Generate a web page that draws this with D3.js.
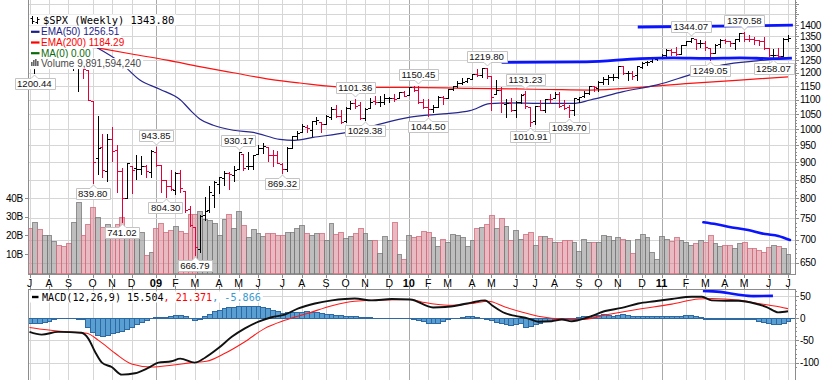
<!DOCTYPE html>
<html><head><meta charset="utf-8">
<script src="https://cdn.jsdelivr.net/npm/d3@7"></script>
<style>
html,body{margin:0;padding:0;background:#fff;}
svg{display:block;}
text{font-family:"Liberation Sans",Arial,sans-serif;}
</style></head><body>
<svg id="c" width="839" height="380"></svg>
<script>
// ---------------- DATA ----------------
const firstWeek = "2008-07-07";           // Monday of first weekly bar
const prevClose = 1262.90;                // close of week before first bar
const open = [1262.9,1239,1261,1258,1260,1296,1298,1292,1283,1249,
1250,1255,1209,1097,912,943,874,968,936,874,
801,888,882,880,888,872,930,890,849,833,
823,868,819,773,729,680,758,771,809,839,
854,868,862,880,922,887,887,923,940,943,
919,920,895,880,941,980,990,1009,998,1026,
1025,1018,1040,1067,1045,1026,1072,1088,1080,1036,
1070,1094,1092,1092,1106,1107,1105,1127,1116,1146,
1136,1092,1074,1066,1076,1110,1105,1139,1150,1160,
1167,1178,1194,1192,1217,1188,1122,1136,1084,1087,
1065,1092,1122,1075,1028,1078,1065,1103,1107,1122,
1080,1073,1063,1103,1114,1126,1149,1144,1165,1177,
1184,1185,1225,1200,1198,1190,1223,1242,1245,1254,
1258,1272,1293,1283,1276,1311,1329,1340,1321,1322,
1301,1281,1315,1333,1329,1320,1338,1365,1340,1338,
1333,1331,1300,1271,1272,1268,1340];
const high = [1277,1262,1291,1285,1297,1313,1300,1304,1303,1274,
1265,1255,1209,1097,1044,985,984,1007,951,882,
896,888,919,918,890,935,943.85,890,850,877,
870,876,819,780,729,758,803,832,845,858,
875,871,888,930.17,922,930,920,951,956,944,
935,931,898,943,980,996,1018,1013,1027,1039,
1025,1048,1074,1080,1063,1076,1097,1101.36,1092,1071,
1106,1113,1112,1120,1110,1119,1128,1130,1146,1149,
1150.45,1103,1104,1080,1112,1112,1139,1150,1170,1181,
1181,1194,1214,1217,1219.80,1189,1174,1148,1104,1106,
1094,1120,1131.23,1075,1078,1099,1103,1120,1128,1129,
1100,1081,1105,1111,1131,1149,1150,1167,1185,1190,
1196,1227,1227,1207,1206,1225,1241,1247,1258,1263,
1277,1296,1297,1302,1312,1330,1344.07,1340,1332,1330,
1301,1315,1337,1339,1329,1339,1364,1370.58,1354,1346,
1335,1345,1301,1295,1298,1341,1356];
const low = [1225,1200.44,1248,1234,1248,1283,1261,1263,1217,1212,
1133,1179,1098,839.80,865,857,845,904,818,741.02,
801,815,852,866,857,857,889,818,804.30,821,
812,816,765,733,666.79,672,747,767,779,814,
836,826,847,879,878,879,881,923,927,903,
888,896,869.32,875,940,969,990,990,979,1018,
991,1017,1035,1041,1020,1025,1066,1070,1033,1029.38,
1070,1086,1079,1086,1091,1097,1105,1114,1116,1132,
1090,1071,1044.50,1056,1076,1086,1105,1136,1147,1156,
1165,1175,1186,1183,1181,1065,1122,1056,1040,1060,
1042,1088,1071,1010.91,1018,1063,1056,1088,1107,1075,
1068,1039.70,1048,1091,1111,1122,1131,1131,1159,1159,
1171,1180,1194,1173,1176,1174,1218,1232,1244,1252,
1257,1265,1272,1272,1276,1311,1324,1294,1303,1291,
1249.05,1279,1302,1322,1309,1295,1331,1330,1330,1318,
1311,1297,1268,1258.07,1262,1265,1330];
const close = [1239.49,1260.68,1257.76,1260.31,1296.32,1298.20,1292.20,1282.83,1242.31,1251.70,
1255.08,1213.27,1099.23,899.22,940.55,876.77,968.75,930.99,873.29,800.03,
896.24,876.07,879.73,887.88,872.80,931.80,890.35,850.12,831.95,825.88,
868.60,826.84,770.05,735.09,683.38,756.55,768.54,815.94,842.50,856.56,
869.60,866.23,877.52,929.23,882.88,887.00,919.14,940.09,946.21,921.23,
918.90,896.42,879.13,940.38,979.26,987.48,1010.48,1004.09,1026.13,1028.93,
1016.40,1042.73,1068.30,1044.38,1025.21,1071.49,1087.68,1079.60,1036.19,1069.30,
1093.48,1091.38,1091.49,1105.98,1106.41,1102.47,1126.48,1115.10,1144.98,1136.03,
1091.76,1073.87,1066.19,1075.51,1109.17,1104.49,1138.70,1149.99,1159.90,1166.59,
1178.10,1194.37,1192.13,1217.28,1186.69,1110.88,1135.68,1087.69,1089.41,1064.88,
1091.60,1117.51,1076.76,1022.58,1077.96,1064.88,1102.66,1101.60,1121.64,1079.25,
1071.69,1064.59,1104.51,1109.55,1125.59,1148.67,1146.24,1165.15,1176.19,1183.08,
1183.26,1225.85,1199.21,1199.73,1189.40,1224.71,1240.40,1243.91,1256.77,1257.64,
1271.50,1293.24,1283.35,1276.34,1310.87,1329.15,1343.01,1319.88,1321.15,1304.28,
1279.21,1313.80,1332.41,1328.17,1319.68,1337.38,1363.61,1340.20,1337.77,1333.27,
1331.10,1300.16,1270.98,1271.50,1268.45,1339.67,1343.80];
// weekly volume, billions of shares
const volume = [23.8,27,23.4,20.2,20.2,17,15,14.2,15.7,27,
37.7,20.2,26,35,29.7,24.3,26,23.8,26,29.7,
20,24.4,22,22,9.5,11,23.8,26.4,22,23,
25,22.5,21.5,31.5,31.5,33,29,28.3,26.4,20.2,
29,31.5,23.8,33,25.7,19,23.2,21,19.7,21.5,
21.5,20.2,20.2,22,22,23.8,25.6,21,20.2,21,
21,17.4,26.4,20.8,22,18.4,19.9,21,23.8,21,
17.4,17.4,10.3,19.7,17.4,27,10,7.6,20.2,19,
19.7,22.5,22,19.3,14.1,17.8,16.6,20.8,20.2,19.3,
14.1,17.4,23.8,24.4,26.1,31,23.8,29.2,25,17.4,
22.7,17.8,20.8,22,14.6,19.7,19.7,18.4,16.6,16.6,
17.4,17.4,16.6,11.6,17.8,16.6,16.6,16.2,20.2,19.7,
17.4,19,17.8,17.4,10.3,17.8,20.8,19,11,7.6,
19.7,17.8,16.9,19,17.4,16.2,15.1,15.7,17.4,16.2,
20.2,15.7,14.1,14.6,14.6,13.4,15.7,16.2,13.4,13.4,
12.3,11,13.7,15.1,14.4,13,9.89];
// EMA lines (week index, value)
const ema50Idx = [13.9,18.6,22.7,26.8,31.0,33.4,35.1,37.8,41.9,46.0,51.5,54.5,58.3,65.3,70.0,78.3,81.8,85.9,90.6,94.7,98.8,105,111.8,115.3,122.1,129.1,135.8,142.6,149.6,156];
const ema50Val = [1301,1242,1172,1138,1100,1058,1033,1013,997,990,968,965,974,990,1008,1040,1047,1052,1062,1086,1089,1087,1087,1099,1129,1154,1192,1231,1247,1256.51];
const ema200Idx = [13.9,21,28.3,35,41.9,49.5,55.6,63.2,70,78.3,90.6,100,107,115.3,125.6,135.8,146.1,156];
const ema200Val = [1301,1275,1250,1224,1200,1175,1161,1147,1145,1145,1141,1139,1137,1135,1145,1160,1172,1184.29];
// MACD(12,26,9)
const macdIdx = [0,2.5,5.9,10.7,12.1,13.5,14.9,16.9,19,21.7,24.4,26.5,29.2,31,34,36.1,38.8,41.6,44.3,47.1,49.8,52.5,55.3,58.7,62.2,64.9,66.9,70.4,74.5,78.3,83,85.5,88.2,90.9,93.7,95.1,97.8,99.9,102.6,104.6,107.4,109.5,111.5,114.9,118.4,121.8,125.2,128.6,132.1,136.2,138.3,140.3,143.1,145.8,149.2,151.6,154,156];
const macdVal = [-31,-37,-31,-33,-46,-76,-100,-110,-127,-124,-112,-100,-97,-91,-100,-89,-68,-42,-23,-8,2,8,22,33,40,43,44,40,43,42,24,25,29,35,40,29,11,5,-1,-8,-7,-3,-7,2,16,23,33,38,43,48,48,40,39,39,33,25,13,15.504];
const sigIdx = [0,2.5,8,11.8,14.2,17.6,21,25.1,29.2,33.4,36.4,40.2,44.3,48.4,52.5,57.3,62.2,66.9,71.7,78.3,81.3,86.1,90.9,94.4,97.8,101.2,105.3,109.5,113.6,118.4,125.2,132.1,137.6,140.3,145.8,149.9,151.6,154.4,156];
const sigVal = [-21,-25,-31,-34,-50,-79,-103,-110,-106,-100,-97,-79,-53,-23,-5,11,28,38,40.5,42,35,29,33,38,25,14,3,-2,-3,7,20,31.5,43,44,40.5,33,30,25,21.371];
const hist = [-11,-12,-11,-9,-6,-2,0,1,1,0,
-1,-3,-20,-32,-39,-40,-37,-34,-31,-28,
-25,-20,-14,-9,-4,1,3,3,3,4,
7,8,4,0,-4,-1,5,10,15,19,
22,24,26,27,28,28,28,27,25,22,
19,15,11,13,13,14,14,15,14,13,
11,9,9,7,6,5,5,5,3,2,
2,1,0.5,0.3,0,0,0,0,-0.5,-2,
-4.5,-7.5,-10,-11,-10,-6,-2,0,1,3,
4,4.5,3,1,-2,-5,-8,-10,-13,-15,
-14,-12,-19,-17,-13,-10,-7,-6,-3,-2,
-2,-2,-1,1.5,4,5,7,7.5,9,7,
5,7.5,9,7,5,5,5,4.5,4.5,4.5,
4.5,4,4,4,5,6.5,6.5,5,3,-1,
-3,-2.5,-2,-2.5,-2.5,-2,-1,-1,-2,-3,
-6,-8,-11,-13.5,-13,-10,-5.866];
// hand-drawn trend lines
const resIdx = [125.1,157], resVal = [1391,1399];
const supIdx = [97.1,114.6,125.6,132.4,139.3,146.1,152.9,156.8];
const supVal = [1241,1243,1256,1259,1257,1259,1256,1258];
const volTrIdx = [138.6,141.3,143.7,147.8,151.3,154,156.4];
const volTrVal = [27,25.9,24.6,22.9,20.7,19.7,17.5];
const macdTrIdx = [138.5,142,145.5,148.9,152.9];
const macdTrVal = [61.4,59,53.3,49.5,50];
// annotated swing highs / lows
const annIdx  = [1,13,19,26,28,34,43,52,67,69,80,82,94,102,103,111,136,140,147,153];
const annType = ["L","L","L","H","L","L","H","L","H","L","H","L","H","H","L","L","H","L","H","L"];
// axis ticks
const priceTicks = d3.range(650,1401,50);
const priceGrid = d3.range(650,1501,50);
const volTicks = [10,20,30,40];
const macdTicks = [50,0,-50,-100];
const monthLetters = ["J","F","M","A","M","J","J","A","S","O","N","D"];

// ---------------- LAYOUT ----------------
const L = 28, R = 795, PB = 274, MT = 289;
const N = close.length;
const x  = d3.scaleLinear().domain([0,156]).range([29.5,788]);
const y  = d3.scaleLog().domain([650,1400]).range([262.8,25]);
const yv = d3.scaleLinear().domain([0,40]).range([272.7,198]);
const ym = d3.scaleLinear().domain([-100,50]).range([362.6,295.9]);
const parse = d3.timeParse("%Y-%m-%d");
const weeks = d3.range(N).map(i => d3.timeWeek.offset(parse(firstWeek), i));
const monthIdx = d3.range(N).filter(i => i===0 || weeks[i].getMonth()!==weeks[i-1].getMonth());

const svg = d3.select("#c");
const defs = svg.append("defs");
defs.append("clipPath").attr("id","cm").append("rect").attr("x",L).attr("y",-10).attr("width",R-L).attr("height",PB+10);
defs.append("clipPath").attr("id","cd").append("rect").attr("x",L).attr("y",MT).attr("width",R-L).attr("height",100);
const px = v => Math.round(v)+0.5;

// ---------- grids ----------
const gMain = svg.append("g").attr("clip-path","url(#cm)");
const gMacd = svg.append("g").attr("clip-path","url(#cd)");
[gMain,gMacd].forEach((g,k)=>{
  monthIdx.forEach(i=>{
    const isY = weeks[i].getMonth()===0;
    g.append("line").attr("x1",px(x(i))).attr("x2",px(x(i)))
     .attr("y1",k?MT:-10).attr("y2",k?390:PB)
     .attr("stroke",isY?"#a9a9a9":"#d6d6d6").attr("stroke-width",1);
  });
});
priceGrid.forEach(p=>{
  gMain.append("line").attr("x1",L).attr("x2",R).attr("y1",px(y(p))).attr("y2",px(y(p)))
   .attr("stroke","#d6d6d6");
});
macdTicks.forEach(v=>{
  gMacd.append("line").attr("x1",L).attr("x2",R).attr("y1",px(ym(v))).attr("y2",px(ym(v)))
   .attr("stroke","#d6d6d6");
});

// ---------- volume ----------
const isUp = i => close[i] >= (i===0 ? prevClose : close[i-1]);
volume.forEach((v,i)=>{
  const x0 = Math.round(x(i-0.5)), x1 = Math.round(x(i+0.5));
  const yt = Math.round(yv(v));
  gMain.append("rect").attr("x",x0+0.5).attr("y",yt+0.5).attr("width",x1-x0).attr("height",Math.round(yv(0))-yt)
   .attr("fill",isUp(i)?"rgba(150,150,150,0.62)":"rgba(214,118,134,0.5)")
   .attr("stroke",isUp(i)?"rgba(118,118,118,0.75)":"rgba(210,110,125,0.8)").attr("stroke-width",1);
});
gMain.append("path").attr("fill","none").attr("stroke","#0a14ff").attr("stroke-width",2.6).attr("stroke-linecap","round")
  .attr("d", d3.line().curve(d3.curveMonotoneX)(volTrIdx.map((d,k)=>[x(d),yv(volTrVal[k])])));

// ---------- EMA lines ----------
const lineGen = d3.line().curve(d3.curveMonotoneX);
gMain.append("path").attr("fill","none").attr("stroke","#ff1010").attr("stroke-width",1.2)
  .attr("d", lineGen(ema200Idx.map((d,k)=>[x(d),y(ema200Val[k])])));
gMain.append("path").attr("fill","none").attr("stroke","#26268f").attr("stroke-width",1.2)
  .attr("d", lineGen(ema50Idx.map((d,k)=>[x(d),y(ema50Val[k])])));

// ---------- price bars ----------
close.forEach((c,i)=>{
  const col = isUp(i) ? "#000" : "#e0003a";
  const cx = px(x(i));
  const g = gMain.append("g").attr("stroke",col).attr("stroke-width",1);
  g.append("line").attr("x1",cx).attr("x2",cx).attr("y1",Math.round(y(high[i]))).attr("y2",Math.round(y(low[i]))+1);
  g.append("line").attr("x1",cx-2.5).attr("x2",cx).attr("y1",px(y(open[i]))).attr("y2",px(y(open[i])));
  g.append("line").attr("x1",cx).attr("x2",cx+2.5).attr("y1",px(y(c))).attr("y2",px(y(c)));
});

// ---------- trend lines on price ----------
gMain.append("path").attr("fill","none").attr("stroke","#0a14ff").attr("stroke-width",2.8)
  .attr("d", lineGen(resIdx.map((d,k)=>[x(d),y(resVal[k])])));
gMain.append("path").attr("fill","none").attr("stroke","#0a14ff").attr("stroke-width",2.8)
  .attr("d", lineGen(supIdx.map((d,k)=>[x(d),y(supVal[k])])));

// ---------- MACD ----------
hist.forEach((h,i)=>{
  const x0 = Math.round(x(i-0.5)), x1 = Math.round(x(i+0.5));
  const y0 = Math.round(ym(0)), yh = Math.round(ym(h));
  gMacd.append("rect").attr("x",x0+0.5).attr("y",Math.min(y0,yh)+0.5).attr("width",x1-x0).attr("height",Math.abs(yh-y0))
   .attr("fill","#5a9fd2").attr("stroke","#2d6aa3").attr("stroke-width",1);
});
gMacd.append("line").attr("x1",L).attr("x2",R).attr("y1",px(ym(0))).attr("y2",px(ym(0))).attr("stroke","#2d6aa3");
gMacd.append("path").attr("fill","none").attr("stroke","#ff1a1a").attr("stroke-width",1.1)
  .attr("d", lineGen(sigIdx.map((d,k)=>[x(d),ym(sigVal[k])])));
gMacd.append("path").attr("fill","none").attr("stroke","#111").attr("stroke-width",1.9)
  .attr("d", lineGen(macdIdx.map((d,k)=>[x(d),ym(macdVal[k])])));
gMacd.append("path").attr("fill","none").attr("stroke","#0a14ff").attr("stroke-width",2.6)
  .attr("d", lineGen(macdTrIdx.map((d,k)=>[x(d),ym(macdTrVal[k])])));

// ---------- borders & axes ----------
const ax = svg.append("g").attr("stroke","#8c8c8c").attr("stroke-width",1);
ax.append("line").attr("x1",L+0.5).attr("x2",L+0.5).attr("y1",-5).attr("y2",PB+0.5);
ax.append("line").attr("x1",R+0.5).attr("x2",R+0.5).attr("y1",-5).attr("y2",PB+0.5);
ax.append("line").attr("x1",L).attr("x2",R+1).attr("y1",PB+0.5).attr("y2",PB+0.5);
ax.append("line").attr("x1",L).attr("x2",R+1).attr("y1",MT+0.5).attr("y2",MT+0.5);
ax.append("line").attr("x1",L+0.5).attr("x2",L+0.5).attr("y1",MT).attr("y2",385);
ax.append("line").attr("x1",R+0.5).attr("x2",R+0.5).attr("y1",MT).attr("y2",385);
monthIdx.forEach(i=>{
  ax.append("line").attr("x1",px(x(i))).attr("x2",px(x(i))).attr("y1",PB).attr("y2",PB+4);
  ax.append("line").attr("x1",px(x(i))).attr("x2",px(x(i))).attr("y1",MT-3).attr("y2",MT);
});
// right price ticks
d3.range(650,1521,10).forEach(p=>{
  const major = p%50===0;
  if (y(p) < 0 || y(p) > PB) return;
  ax.append("line").attr("x1",R).attr("x2",R+(major?4:2)).attr("y1",px(y(p))).attr("y2",px(y(p)));
});
d3.range(-110,61,10).forEach(v=>{
  if (ym(v) < MT || ym(v) > 380) return;
  ax.append("line").attr("x1",R).attr("x2",R+(v%50===0?4:2)).attr("y1",px(ym(v))).attr("y2",px(ym(v)));
});
volTicks.forEach(v=>{
  ax.append("line").attr("x1",L-3).attr("x2",L).attr("y1",px(yv(v))).attr("y2",px(yv(v)));
});

const txt = svg.append("g").attr("font-size","10px").attr("fill","#000");
priceTicks.forEach(p=>{
  txt.append("text").attr("x",800).attr("y",y(p)+3.6).attr("letter-spacing","-0.3").text(p);
});
macdTicks.forEach(v=>{
  txt.append("text").attr("x",800).attr("y",ym(v)+3.6).attr("letter-spacing","-0.3").text(v);
});
volTicks.forEach(v=>{
  txt.append("text").attr("x",23).attr("y",yv(v)+3.6).attr("text-anchor","end").attr("letter-spacing","-0.3").text(v+"B");
});
monthIdx.forEach(i=>{
  const m = weeks[i].getMonth();
  const isY = m===0;
  txt.append("text").attr("x",x(i)).attr("y",286.5).attr("text-anchor","middle")
    .attr("font-size", isY?"11px":"10.5px").attr("font-weight",isY?"bold":"normal")
    .text(isY ? String(weeks[i].getFullYear()).slice(2) : monthLetters[m]);
});

// ---------- price annotations ----------
const annG = svg.append("g");
annIdx.forEach((i,k)=>{
  const isLow = annType[k]==="L";
  const v = isLow ? low[i] : high[i];
  const cx = x(i);
  const t = annG.append("text").attr("font-size","9.6px").attr("text-anchor","middle").attr("fill","#111").text(v.toFixed(2));
  const w = t.node().getComputedTextLength() + 5;
  const hgt = 11;
  const top = isLow ? Math.round(y(v))+5.5 : Math.round(y(v))-5.5-hgt;
  const x0 = Math.round(cx - w/2)+0.5, x1 = x0 + Math.round(w);
  const bot = top + hgt;
  const c = Math.round(cx)+0.5;
  const d = isLow
    ? `M${x0},${top}L${c-3.5},${top}L${c},${top-3.5}L${c+3.5},${top}L${x1},${top}L${x1},${bot}L${x0},${bot}Z`
    : `M${x0},${top}L${x1},${top}L${x1},${bot}L${c+3.5},${bot}L${c},${bot+3.5}L${c-3.5},${bot}L${x0},${bot}Z`;
  annG.insert("path","text").attr("d",d).attr("fill","#fff").attr("stroke","#c4c4c4").attr("stroke-width",1);
  t.attr("x",cx).attr("y",top+hgt/2+3.4);
});

// ---------- legend ----------
const lg = svg.append("g");
function legendRow(cy, str, color, font, size, x0){
  const bg = lg.append("rect").attr("fill","#fff");
  const t = lg.append("text").attr("x",x0).attr("y",cy+3.5).attr("fill",color)
     .attr("font-size",size).style("font-family",font).text(str);
  const w = t.node().getComputedTextLength();
  bg.attr("x",L+1).attr("y",cy-5.5).attr("width",x0+w+2-(L+1)).attr("height",11);
  return t;
}
legendRow(20, "$SPX (Weekly) 1343.80", "#000", "'DejaVu Sans Mono',monospace", "10.4px", 43);
legendRow(31.8, "EMA(50) 1256.51", "#1e1e8a", "'Liberation Sans',Arial,sans-serif", "10px", 41);
legendRow(42.5, "EMA(200) 1184.29", "#ff0000", "'Liberation Sans',Arial,sans-serif", "10px", 41);
legendRow(53.2, "MA(0) 0.00", "#0a6a0a", "'Liberation Sans',Arial,sans-serif", "10px", 41);
legendRow(63.6, "Volume 9,891,594,240", "#4a4a4a", "'Liberation Sans',Arial,sans-serif", "10px", 41);
// swatches
[[31.8,"#1e1e8a"],[42.5,"#ff0000"],[53.2,"#0a6a0a"]].forEach(([cy,c])=>{
  lg.append("line").attr("x1",31).attr("x2",39.5).attr("y1",cy).attr("y2",cy).attr("stroke",c).attr("stroke-width",2.2);
});
// title icon (two tiny OHLC bars)
const ic = lg.append("g").attr("stroke","#000").attr("stroke-width",1);
[[32.5,16,24,18,21],[37.5,17,24,22,19]].forEach(([bx,t,b,o,c])=>{
  ic.append("line").attr("x1",bx).attr("x2",bx).attr("y1",t).attr("y2",b);
  ic.append("line").attr("x1",bx-2).attr("x2",bx).attr("y1",o+0.5).attr("y2",o+0.5);
  ic.append("line").attr("x1",bx).attr("x2",bx+2).attr("y1",c+0.5).attr("y2",c+0.5);
});
// volume icon
[[31,62,4],[33,60,6],[35,59,7],[37,61,5]].forEach(([bx,t,h])=>{
  lg.append("rect").attr("x",bx).attr("y",t).attr("width",1.6).attr("height",h).attr("fill","#666");
});
// MACD legend
const mbg = lg.append("rect").attr("fill","#fff");
const mt = lg.append("text").attr("x",42).attr("y",300.6).attr("font-size","10.1px")
  .style("font-family","'DejaVu Sans Mono',monospace");
mt.append("tspan").attr("fill","#000").text("MACD(12,26,9) 15.504");
mt.append("tspan").attr("fill","#ff0000").text(", 21.371");
mt.append("tspan").attr("fill","#3a9ad0").text(", -5.866");
mbg.attr("x",L+1).attr("y",291.5).attr("width",42+mt.node().getComputedTextLength()+2-(L+1)).attr("height",11);
lg.append("line").attr("x1",32).attr("x2",38.5).attr("y1",297).attr("y2",297).attr("stroke","#000").attr("stroke-width",2.4);
</script>
</body></html>
